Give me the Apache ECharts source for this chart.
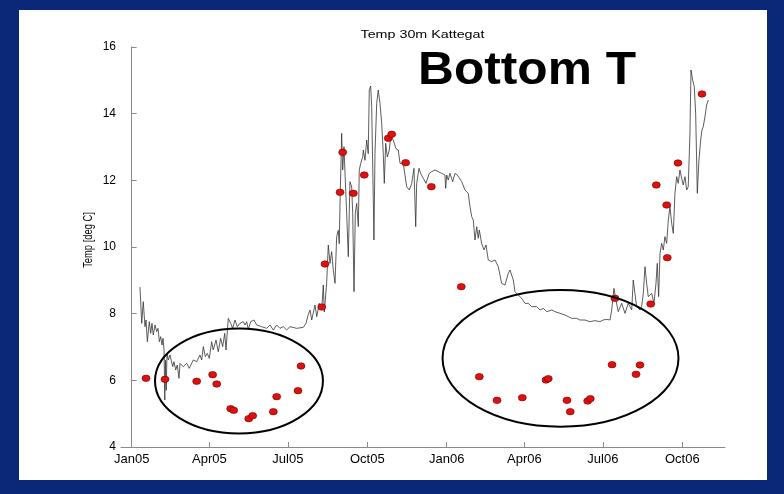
<!DOCTYPE html>
<html><head><meta charset="utf-8">
<script src="https://cdn.jsdelivr.net/npm/echarts@6.0.0/dist/echarts.min.js"></script>
<style>
html,body{margin:0;padding:0;background:#0b2878;width:784px;height:494px;overflow:hidden}
#chart{position:absolute;left:19px;top:10px;width:748px;height:470px;background:#fff}
</style></head><body><div id="chart"></div>
<script>
// x values are days since 2005-01-01
const tickDays = [0, 90, 181, 273, 365, 455, 546, 638];
const tickLabels = ['Jan05', 'Apr05', 'Jul05', 'Oct05', 'Jan06', 'Apr06', 'Jul06', 'Oct06'];

// Continuous bottom temperature record [day, degC]
const sensorRecord = [
[9.6,8.8],[11.6,7.71],[13.4,8.36],[15.4,7.61],[16.6,7.81],[18.1,7.16],[20.4,7.76],[22.0,7.41],[23.5,7.71],[25.0,7.36],
[27.0,7.66],[29.0,7.46],[30.5,7.56],[32.0,7.16],[33.6,7.31],[35.1,7.06],[36.3,7.26],[37.5,6.9],[38.3,5.41],[39.2,6.6],
[40.0,5.7],[40.9,6.81],[42.4,6.61],[44.4,6.76],[47.5,6.41],[49.0,6.56],[51.0,6.31],[52.8,6.46],[54.8,6.06],[56.0,6.51],
[59.8,6.41],[63.7,6.51],[66.7,6.36],[71.4,6.61],[75.3,6.56],[79.1,6.76],[81.1,6.61],[83.0,7.01],[85.3,6.71],[87.6,6.81],
[89.9,6.66],[92.7,7.16],[94.5,6.91],[97.7,7.21],[100.3,6.86],[103.1,7.26],[105.4,7.01],[107.8,7.41],[109.3,6.91],[111.9,7.86],
[114.7,7.71],[117.0,7.56],[119.7,7.81],[122.4,7.61],[125.5,7.71],[129.3,7.76],[131.3,7.66],[133.2,7.76],[135.1,7.53],[137.9,7.76],
[141.7,7.81],[144.8,7.66],[150.6,7.61],[156.4,7.56],[160.2,7.66],[164.1,7.51],[168.0,7.66],[171.8,7.56],[175.7,7.61],[179.6,7.51],
[183.4,7.61],[191.2,7.56],[198.8,7.59],[202.0,7.71],[204.3,7.95],
[206.6,8.11],[208.6,7.81],[212.4,8.26],[214.4,7.91],[217.4,8.31],[220.2,8.11],[222.0,8.86],[223.2,8.05],[225.9,8.91],[227.8,10.06],
[229.8,9.51],[231.7,9.86],[233.6,9.31],[235.6,8.91],[237.5,10.31],[239.4,10.5],[240.5,10.1],[241.4,11.31],[243.3,13.41],[244.5,12.31],
[246.0,13.01],[247.5,12.01],[249.1,11.01],[251.0,9.71],[252.9,11.96],[254.9,11.8],[256.1,11.01],[257.6,8.66],[259.1,11.01],[260.7,11.31],
[262.6,10.61],[263.7,12.31],[265.3,12.5],[267.7,12.71],[268.4,12.91],[270.3,12.6],[272.3,13.21],[274.1,12.8],[275.3,14.71],[276.9,14.83],
[278.1,14.21],[279.9,11.51],[280.7,10.21],[281.9,12.8],[283.9,14.31],[285.7,14.71],[287.7,14.31],[289.7,13.71],[291.5,12.81],[292.7,11.91],
[294.3,13.11],[296.2,12.7],[298.5,12.91],[300.1,13.31],[303.1,13.21],[306.2,12.95],[308.9,12.91],[310.9,12.51],[314.7,12.51],[318.6,11.81],
[321.7,11.71],[324.4,11.9],[327.1,12.36],[329.1,10.61],[330.2,11.9],[332.9,12.36],[334.9,12.2],[337.9,12.06],[341.0,11.91],[344.8,12.21],
[347.6,12.26],[351.4,12.31],[355.3,12.26],[359.2,12.21],[363.0,12.16],[363.8,11.76],[365.0,12.16],[366.8,12.01],[368.8,12.21],[371.9,11.96],
[374.6,12.21],[377.3,12.16],[379.6,12.11],[382.4,11.96],[386.2,11.71],[388.2,11.66],[390.0,11.61],[392.0,11.21],[394.0,10.91],[395.8,10.81],
[397.8,10.21],[399.8,10.61],[401.6,10.26],[402.8,10.51],[405.5,10.11],[408.2,9.91],[410.5,10.06],[413.2,9.61],[417.1,9.56],[421.0,9.61],
[424.8,9.41],[428.7,8.91],[432.5,8.86],[436.4,9.21],[438.3,9.31],[440.3,9.26],[442.2,9.01],[444.1,8.66],[447.9,8.56],[451.9,8.46],
[455.7,8.31],[459.5,8.31],[463.5,8.21],[469.3,8.21],[473.1,8.11],[476.9,8.16],[480.9,8.06],[486.7,8.11],[490.5,8.06],[496.3,8.01],
[502.1,7.96],[505.9,7.91],[509.8,7.86],[515.6,7.86],[519.4,7.81],[525.2,7.81],[531.0,7.76],[536.8,7.79],[542.6,7.76],[546.4,7.81],
[550.4,7.83],[554.2,7.81],[556.2,8.11],[558.8,8.76],[561.2,8.4],[563.8,8.06],[565.8,8.01],[567.8,8.31],[571.6,8.01],[575.4,8.31],
[579.4,8.11],[581.2,9.01],[583.2,8.6],[585.1,8.21],[589.0,8.11],[590.9,8.21],[592.8,8.61],[594.8,9.41],[596.7,8.91],[598.6,8.51],
[602.5,8.61],[605.2,8.31],[607.5,8.9],[609.0,9.51],[610.6,8.51],[612.2,9.81],[614.1,10.11],[616.0,9.91],[617.9,10.31],[619.9,10.11],
[621.8,10.81],[623.7,11.21],[625.7,10.71],[627.6,10.41],[629.5,11.61],[631.5,12.11],[633.3,11.91],[635.3,12.31],[637.3,12.06],[639.1,11.86],
[641.1,12.11],[643.1,11.71],[644.9,11.81],[646.9,13.41],[648.1,15.31],[650.0,15.01],[651.9,14.81],[653.5,14.0],[655.4,11.61],[657.3,12.61],
[659.3,13.21],[660.8,13.51],[662.3,13.61],[664.3,13.91],[666.2,14.26],[668.1,14.41]
];

// Bottle / CTD samples [day, degC]
const sampleDays = [16.6,38.6,75.3,93.8,98.5,114.7,118.2,135.6,140.2,164.1,168.0,192.7,196.2,220.2,224.0,241.4,244.5,256.8,269.5,297.3,301.3,317.5,347.2,381.9,402.8,423.3,452.6,480.1,482.7,504.4,508.2,528.4,531.4,556.6,560.0,584.4,589.0,601.4,607.9,619.9,620.6,633.0,660.8];
const sampleTemps = [6.06,6.03,5.97,6.17,5.89,5.15,5.10,4.85,4.94,5.06,5.51,5.69,6.43,8.20,9.49,11.64,12.84,11.61,12.16,13.26,13.38,12.53,11.81,8.81,6.11,5.40,5.48,6.01,6.05,5.40,5.06,5.38,5.45,6.47,8.46,6.18,6.46,8.29,11.86,11.26,9.68,12.52,14.59];

// Highlight ellipses: centre (day, degC) and half-axes (days, degC)
const ellipseCenterDays = [124.3, 496.9];
const ellipseCenterTemps = [5.98, 6.66];
const ellipseHalfDays = [97.3, 136.7];
const ellipseHalfTemps = [1.575, 2.05];

const chart = echarts.init(document.getElementById('chart'), null, {renderer: 'canvas'});
const axisGray = '#8a8a8a';
const sans = 'Liberation Sans, Arial, sans-serif';
const option = {
  animation: false,
  backgroundColor: '#ffffff',
  grid: {left: 102, top: 37, width: 604, height: 400, containLabel: false},
  xAxis: {
    type: 'value', min: -12.4, max: 687.5,
    splitLine: {show: false},
    axisLine: {show: true, lineStyle: {color: axisGray, width: 1}},
    axisTick: {show: true, inside: true, length: 5, customValues: tickDays, lineStyle: {color: axisGray}},
    axisLabel: {customValues: tickDays, margin: 6, color: '#000', fontSize: 13, fontFamily: sans,
      formatter: v => { const i = tickDays.indexOf(v); return i >= 0 ? tickLabels[i] : ''; }}
  },
  yAxis: {
    type: 'value', min: 4, max: 16, interval: 2,
    splitLine: {show: false},
    axisLine: {show: true, lineStyle: {color: axisGray, width: 1}},
    axisTick: {show: true, inside: true, length: 5, lineStyle: {color: axisGray}},
    axisLabel: {margin: 5, color: '#000', fontSize: 12, fontFamily: sans}
  },
  graphic: [
    {type: 'text', x: 403.5, y: 25, scaleX: 1.3, z: 10,
      style: {text: 'Temp 30m Kattegat', fontSize: 11, fontFamily: sans, fill: '#000', align: 'center', verticalAlign: 'middle', textAlign: 'center', textVerticalAlign: 'middle'}},
    {type: 'text', x: 399, y: 61, scaleX: 1.08, z: 10,
      style: {text: 'Bottom T', fontSize: 46, fontWeight: 'bold', fontFamily: sans, fill: '#000', align: 'left', verticalAlign: 'middle', textAlign: 'left', textVerticalAlign: 'middle'}},
    {type: 'text', x: 70, y: 230, rotation: Math.PI / 2, scaleX: 0.78, z: 10,
      style: {text: 'Temp [deg C]', fontSize: 12, fontFamily: sans, fill: '#000', align: 'center', verticalAlign: 'middle', textAlign: 'center', textVerticalAlign: 'middle'}}
  ],
  series: [
    {type: 'line', data: sensorRecord, showSymbol: false, symbol: 'none', z: 2,
      lineStyle: {color: '#333333', width: 0.8}},
    {type: 'scatter', data: sampleDays.map((d, i) => [d, sampleTemps[i]]), symbol: 'circle', symbolSize: [8, 6.5], z: 3,
      itemStyle: {color: '#e01010', borderColor: '#7a0000', borderWidth: 0.6, opacity: 1}},
    {type: 'custom', z: 4, clip: false,
      data: ellipseCenterDays.map((d, i) => [d, ellipseCenterTemps[i], ellipseHalfDays[i], ellipseHalfTemps[i]]),
      encode: {x: 0, y: 1},
      renderItem: (params, api) => {
        const c = api.coord([api.value(0), api.value(1)]);
        const s = api.size([api.value(2), api.value(3)]);
        return {type: 'ellipse', shape: {cx: c[0], cy: c[1], rx: s[0], ry: s[1]},
          style: {fill: 'none', stroke: '#000', lineWidth: 2}};
      }}
  ]
};
chart.setOption(option);
</script></body></html>
